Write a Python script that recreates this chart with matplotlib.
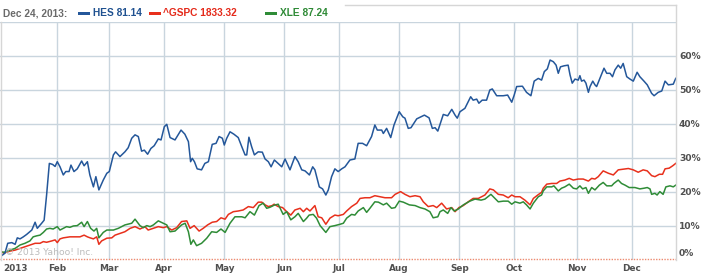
import matplotlib
matplotlib.use("Agg")
import matplotlib.pyplot as plt
from matplotlib.patches import Rectangle
from matplotlib.lines import Line2D
from matplotlib.transforms import blended_transform_factory

# ---------------- data (x = trading-day index in 2013, y = % change) ----------------
hes_day = [0, 1, 2, 3.5, 4.7, 5.5, 6.5, 7.7, 8.9, 10.8, 12, 12.8, 14.4, 15.3, 16.2, 17.2, 18.4, 19.3, 20.1, 21.1,
           22.3, 23.2, 24.4, 25.1, 26.2, 27.4, 29.0, 29.9, 31.1, 32.0, 33.3, 34.2, 35.3, 36.9, 38.2, 39.1, 40.6, 41.4,
           43.0, 44.8, 46.0, 47.3, 48.5, 49.7, 50.9, 51.9, 53.1, 54.3, 55.5, 57.0, 58.0, 59.2, 60.1, 61.3, 63.1, 65.3,
           66.7, 68.0, 68.8, 69.4, 70.2, 71.2, 72.8, 74.0, 75.3, 76.7, 78.1, 79.2, 80.4, 81.1, 82.0, 83.2, 84.6, 86.2,
           87.5, 88.7, 89.3, 90.1, 91.1, 92.1, 93.5, 95.0, 96.0, 97.2, 98.2, 99.4, 102.1, 103.3, 105.1, 106.9, 108.1,
           109.4, 110.6, 112.2, 113.4, 114.2, 115.8, 117.0, 118.2, 119.1, 120.3, 121.5, 122.7, 124.0, 125.2, 127.0,
           128.8, 130.0, 131.6, 133.1, 134.9, 136.1, 137.0, 138.6, 139.2, 140.4, 141.9, 143.1, 145.0, 146.3, 147.1,
           148.3, 149.3, 151.4, 154.2, 155.9, 157.1, 158.1, 159.1, 161.1, 162.7, 164.2, 165.4, 166.2, 167.2, 169.0,
           171.1, 172.0, 173.3, 174.1, 175.3, 176.9, 178.1, 179.0, 180.6, 183.0, 184.6, 186.1, 187.0, 187.9, 190.0,
           191.5, 193.1, 194.3, 195.8, 197.0, 198.0, 199.1, 200.1, 201.3, 202.3, 203.1, 203.9, 205.2, 206.7, 207.4,
           208.2, 209.2, 210.4, 211.0, 211.6, 212.5, 213.2, 214.1, 214.7, 215.7, 216.5, 217.1, 218.3, 219.8, 220.8,
           222.0, 222.9, 223.8, 225.0, 225.9, 226.8, 228.1, 229.3, 230.5, 231.9, 232.9, 234.4, 235.6, 237.2, 238.1,
           239.6, 240.9, 242.1, 243.3, 245.1, 246]
hes_pct = [1.5, 2.1, 5.0, 5.2, 4.7, 6.6, 6.3, 6.9, 7.6, 8.9, 11.2, 9.4, 10.9, 11.8, 19.2, 28.5, 28.2, 27.6, 29.0, 27.5,
           25.1, 26.1, 26.1, 28.0, 26.1, 26.9, 29.2, 27.8, 29.0, 25.1, 21.6, 24.6, 20.7, 23.6, 25.6, 26.1, 31.0, 31.9,
           30.5, 31.9, 33.1, 35.9, 36.9, 36.4, 32.1, 32.4, 31.2, 32.9, 33.7, 35.7, 35.4, 39.3, 40.0, 36.1, 35.4, 38.3,
           37.1, 34.9, 29.0, 30.0, 29.0, 26.9, 26.6, 28.5, 29.0, 34.1, 34.4, 36.4, 35.9, 33.9, 35.9, 37.8, 37.1, 36.1,
           33.4, 31.0, 31.0, 36.2, 33.4, 31.0, 31.9, 31.8, 29.8, 29.0, 27.5, 29.5, 27.5, 29.8, 26.6, 30.5, 29.0,
           26.6, 26.3, 25.1, 27.5, 26.6, 21.6, 21.0, 19.2, 20.7, 24.6, 26.9, 26.1, 26.9, 27.5, 29.5,
           29.8, 34.4, 34.4, 33.7, 36.4, 39.8, 38.3, 38.3, 37.3, 38.8, 36.1, 39.8, 43.7, 42.2, 41.8,
           38.8, 39.0, 41.6, 42.7, 41.9, 38.8, 39.0, 38.0, 42.9, 42.5, 44.4, 42.7, 41.8, 43.7, 44.7,
           48.1, 47.1, 47.4, 46.2, 47.1, 47.1, 50.1, 50.4, 48.4, 48.4, 48.6, 46.5, 48.6, 51.1, 51.2,
           49.4, 48.4, 52.7, 53.5, 53.0, 55.5, 56.3, 58.9, 58.4, 57.4, 55.0, 56.9, 57.2, 57.4, 54.5,
           52.1, 53.3, 53.0, 54.3, 52.7, 53.0, 52.1, 49.4, 51.1, 52.7, 51.6, 51.1, 53.5, 56.5, 55.0,
           55.0, 54.0, 56.0, 57.4, 56.5, 57.9, 54.0, 53.3, 52.7, 55.3, 54.0, 52.7, 51.6, 49.1, 48.4,
           49.4, 49.8, 52.7, 51.6, 51.8, 53.5]

gspc_day = [0, 0.4, 1.6, 2.8, 4.7, 6.5, 8.3, 10.1, 12.0, 13.8, 15.0, 16.2, 18.1, 19.3, 20.1, 21.1, 22.3, 24.7, 28.4,
            29.9, 31.1, 32.1, 33.3, 34.5, 35.3, 36.3, 38.2, 40.0, 41.2, 43.0, 44.8, 46.7, 48.5, 50.3, 52.1, 53.3,
            55.2, 57.0, 58.8, 60.1, 61.9, 63.7, 65.5, 67.4, 68.6, 70.1, 71.9, 73.4, 75.0, 76.7, 78.3, 79.9, 81.4,
            82.6, 84.4, 86.2, 88.0, 89.9, 91.7, 93.5, 94.8, 96.0, 97.2, 98.6, 99.3, 100.8, 102.4, 103.9, 105.4,
            106.9, 108.8, 110.0, 111.2, 112.4, 114.2, 115.4, 116.7, 118.2, 119.7, 121.5, 122.7, 124.6, 125.8, 127.6,
            129.5, 130.7, 132.5, 134.3, 136.1, 138.0, 139.8, 142.2, 143.5, 145.5, 147.1, 148.9, 150.8, 152.6, 153.8,
            155.6, 157.4, 158.7, 160.5, 162.3, 164.2, 165.4, 166.8, 168.4, 170.2, 172.0, 173.9, 176.3, 178.1, 179.4,
            181.2, 183.0, 184.8, 186.1, 187.3, 189.1, 190.9, 192.8, 194.0, 195.6, 197.0, 197.6, 198.9, 200.7, 202.5,
            203.7, 205.5, 207.1, 208.6, 210.4, 212.2, 214.1, 215.3, 216.5, 217.7, 219.5, 221.4, 223.2, 225.0, 226.8,
            228.7, 230.5, 232.3, 234.1, 235.6, 237.2, 238.4, 240.0, 241.2, 242.1, 243.6, 244.9, 246]
gspc_pct = [2.4, 2.1, 2.4, 2.7, 3.0, 3.5, 4.0, 4.5, 5.0, 5.0, 5.5, 5.3, 5.7, 6.0, 5.2, 6.3, 6.6, 6.9, 6.9,
            7.4, 6.9, 6.6, 6.3, 6.9, 4.7, 5.7, 6.5, 6.6, 7.4, 7.9, 8.4, 9.4, 9.9, 9.2, 9.9, 8.9,
            9.4, 9.9, 9.6, 9.9, 8.9, 9.6, 11.4, 11.6, 9.4, 10.2, 8.6, 9.4, 10.4, 11.2, 11.4, 12.5, 12.1,
            13.5, 14.3, 14.5, 14.8, 15.8, 15.5, 17.1, 17.1, 16.3, 15.8, 16.1, 16.5, 15.8, 15.5, 14.3, 13.3,
            14.8, 15.3, 14.3, 15.3, 14.5, 16.1, 12.8, 12.5, 10.6, 12.4, 13.3, 13.1, 13.5, 14.5, 15.8,
            16.8, 18.2, 18.4, 18.4, 19.0, 18.7, 18.4, 18.4, 19.4, 20.2, 19.4, 18.7, 19.0, 18.7, 17.2,
            15.8, 16.1, 15.5, 16.8, 15.1, 15.5, 14.3, 15.5, 16.1, 17.2, 18.2, 18.2, 19.2, 21.0, 20.7,
            19.4, 19.2, 18.4, 19.2, 18.7, 18.7, 17.7, 16.3, 18.2, 19.2, 20.0, 21.2, 22.4, 22.6, 22.6,
            23.3, 23.6, 24.1, 23.6, 23.9, 23.9, 23.3, 24.1, 23.9, 24.6, 26.3, 25.6, 25.1, 26.6, 26.8,
            27.0, 26.6, 25.9, 26.6, 26.3, 24.9, 24.6, 25.3, 25.3, 26.9, 27.1, 27.8, 28.5]

xle_day = [0, 1.0, 2.8, 4.7, 6.5, 8.3, 10.1, 11.3, 12.6, 13.8, 15.0, 16.2, 17.4, 18.6, 20.1, 21.1, 22.3, 23.5, 24.7,
           26.0, 27.4, 29.0, 29.9, 31.1, 32.3, 33.5, 34.5, 35.3, 36.9, 38.2, 40.6, 42.4, 44.8, 47.3, 48.5, 50.3,
           51.5, 52.8, 54.0, 55.2, 57.0, 58.8, 60.1, 61.3, 63.1, 65.5, 66.8, 68.0, 68.9, 69.8, 71.0, 72.8, 74.7,
           76.5, 78.3, 79.9, 81.4, 83.2, 85.0, 87.5, 88.7, 90.5, 92.1, 93.8, 95.3, 96.6, 97.8, 99.3, 100.8, 102.6,
           103.9, 105.4, 106.9, 108.1, 110.0, 111.2, 112.1, 113.6, 114.8, 116.1, 118.2, 119.7, 121.5, 123.4, 124.6,
           125.8, 127.6, 128.8, 130.0, 131.9, 133.1, 134.3, 136.1, 137.4, 139.2, 140.4, 142.2, 143.5, 145.0, 146.5,
           148.7, 150.8, 152.6, 154.4, 156.2, 157.4, 159.1, 159.9, 161.1, 162.7, 163.9, 165.1, 166.6, 168.4, 170.8,
           172.7, 174.9, 176.3, 178.5, 180.0, 181.2, 183.0, 184.8, 186.1, 187.3, 189.1, 190.3, 191.5, 192.8, 194.0,
           195.8, 197.0, 197.6, 198.9, 200.7, 201.5, 203.1, 204.3, 205.5, 207.1, 208.6, 209.8, 211.0, 212.0, 213.2,
           214.1, 215.3, 216.5, 218.1, 219.5, 220.8, 222.6, 223.4, 225.0, 226.2, 227.5, 229.0, 231.1, 232.9, 234.4,
           235.6, 236.6, 237.2, 238.4, 239.2, 240.2, 241.4, 242.4, 243.9, 245.1, 246]
xle_pct = [2.4, 2.4, 3.0, 3.5, 4.5, 5.0, 5.7, 6.9, 7.2, 7.4, 8.2, 9.2, 9.4, 9.2, 9.9, 8.9, 9.4, 9.9, 9.7,
           10.1, 10.2, 11.2, 9.9, 11.4, 9.4, 8.6, 9.4, 6.6, 8.2, 8.9, 8.9, 9.4, 10.4, 10.9, 12.1, 10.2,
           9.6, 10.2, 9.9, 10.4, 11.6, 10.9, 10.4, 8.4, 8.6, 10.4, 10.9, 8.4, 4.7, 6.0, 4.3, 5.0, 6.5,
           8.4, 8.2, 9.2, 8.2, 10.9, 12.8, 12.8, 12.5, 14.3, 13.3, 16.1, 16.8, 15.3, 15.6, 16.2, 16.5, 13.5,
           14.3, 11.9, 12.8, 13.8, 11.4, 12.4, 13.3, 13.5, 12.4, 10.2, 8.2, 9.9, 10.2, 10.6, 10.9,
           12.4, 13.5, 13.3, 14.5, 15.5, 14.1, 15.3, 17.2, 17.1, 16.3, 16.8, 15.3, 15.5, 17.4, 17.1,
           16.3, 16.1, 15.5, 15.1, 14.3, 12.5, 12.8, 14.3, 14.8, 13.8, 15.5, 14.5, 15.1, 16.3, 17.4,
           18.0, 17.7, 18.0, 19.4, 18.2, 17.2, 17.4, 17.4, 16.5, 17.2, 16.8, 17.2, 16.3, 15.1, 16.8,
           18.7, 19.2, 20.4, 21.6, 21.6, 21.9, 20.4, 21.2, 21.6, 22.4, 21.2, 21.0, 21.9, 21.0, 21.4,
           19.7, 21.4, 20.7, 22.1, 22.9, 21.9, 21.9, 22.6, 23.6, 22.6, 22.1, 21.4, 21.4, 21.0, 21.2,
           21.4, 21.0, 19.4, 19.7, 19.2, 20.2, 19.4, 21.6, 21.9, 21.6, 22.1]

month_day = [0, 20, 39, 59, 81, 103, 123, 145, 167, 187, 210, 230]
month_lbl = ["2013", "Feb", "Mar", "Apr", "May", "Jun", "Jul", "Aug", "Sep", "Oct", "Nov", "Dec"]
y_ticks = [0, 10, 20, 30, 40, 50, 60]
legend_date = "Dec 24, 2013:"
legend_items = ["HES 81.14", "^GSPC 1833.32", "XLE 87.24"]

# ---------------- style ----------------
W, H = 705, 274
C_HES, C_GSPC, C_XLE = "#24579a", "#e8301c", "#2f8c37"
T_HES, T_GSPC, T_XLE = "#1f5190", "#e42a1a", "#2e8a36"
GRID = "#c9d5de"
BORDER = "#d6d6d6"
LBL = "#505050"

fig = plt.figure(figsize=(W / 100, H / 100), dpi=100)
fig.patch.set_facecolor("white")


def fx(x):
    return x / W


def fy(y):
    return 1 - y / H


y0_px, ytop_px = 260.3, 22.3
ax = fig.add_axes([0, fy(y0_px), 676 / W, (y0_px - ytop_px) / H])
ax.set_xlim(-0.82, 246.1)
ax.set_ylim(0, 70)
for s in ax.spines.values():
    s.set_visible(False)
ax.set_xticks([])
ax.set_yticks([])

for v in [10, 20, 30, 40, 50, 60, 70]:
    ax.axhline(v, color=GRID, lw=1.0, zorder=0)
for d in month_day[1:]:
    ax.axvline(d, color=GRID, lw=1.0, zorder=0)
ax.axhline(0.25, color="#ec8a70", lw=1.0, ls=(0, (1, 1)), zorder=1, clip_on=False)

ax.plot(gspc_day, gspc_pct, color=C_GSPC, lw=1.1, zorder=3)
ax.plot(xle_day, xle_pct, color=C_XLE, lw=1.1, zorder=4)
ax.plot(hes_day, hes_pct, color=C_HES, lw=1.1, zorder=5)

# frame pieces
fig.add_artist(Line2D([fx(345), fx(676)], [fy(4.7), fy(4.7)], color=BORDER, lw=1.0))
fig.add_artist(Line2D([fx(676), fx(676)], [fy(4.7), fy(259.5)], color=BORDER, lw=1.0))
fig.add_artist(Line2D([fx(0.5), fx(0.5)], [fy(22.3), fy(259.5)], color=BORDER, lw=1.0))

# y labels (right)
for v in y_ticks:
    ypx = y0_px - 3.4 * v if v > 0 else 253.3
    fig.text(fx(679), fy(ypx), f"{v}%", ha="left", va="center", fontsize=6.6,
             fontweight="bold", color=LBL, family="DejaVu Sans")

# x labels
tr = blended_transform_factory(ax.transData, fig.transFigure)
for d, lbl in zip(month_day, month_lbl):
    if d == 0:
        fig.text(fx(3), fy(268.3), lbl, ha="left", va="center", fontsize=6.4,
                 fontweight="bold", color=LBL, family="DejaVu Sans")
    else:
        ax.text(d, fy(268.3), lbl, transform=tr, ha="center", va="center", fontsize=6.4,
                fontweight="bold", color=LBL, family="DejaVu Sans", clip_on=False)

# watermark
fig.text(fx(5), fy(252.5), "\u00a9 2013 Yahoo! Inc.", ha="left", va="center", fontsize=6.6,
         color="#bcbcbc", family="DejaVu Sans")

# legend
fig.text(fx(3), fy(13.3), legend_date, ha="left", va="center", fontsize=7.3,
         fontweight="bold", color="#6a6a6a", family="Liberation Sans")
leg = [(78, 92.7, C_HES, T_HES), (148.7, 163, C_GSPC, T_GSPC), (265, 280, C_XLE, T_XLE)]
for (rx, tx, col, tcol), lbl in zip(leg, legend_items):
    fig.add_artist(Rectangle((fx(rx), fy(15.2)), 12 / W, 3.6 / H, transform=fig.transFigure,
                             facecolor=col, edgecolor="none"))
    fig.text(fx(tx), fy(13.3), lbl, ha="left", va="center", fontsize=7.3,
             fontweight="bold", color=tcol, family="Liberation Sans")

fig.savefig("out.png", dpi=100, facecolor="white")
